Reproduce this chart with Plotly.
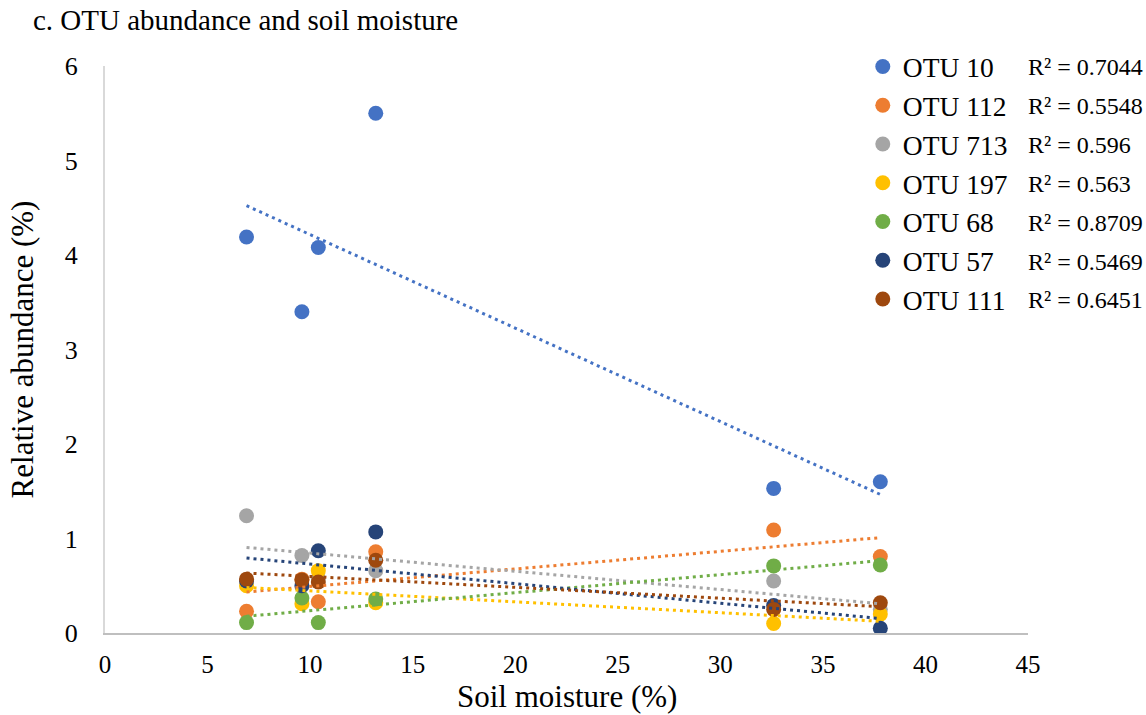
import numpy as np
import plotly.graph_objects as go

# ---- data ----
moisture = [6.9, 9.6, 10.4, 13.2, 32.6, 37.8]

otu_names = ["OTU 10", "OTU 112", "OTU 713", "OTU 197", "OTU 68", "OTU 57", "OTU 111"]
otu10 = [4.19, 3.40, 4.08, 5.50, 1.53, 1.60]
otu112 = [0.23, 0.57, 0.33, 0.86, 1.09, 0.81]
otu713 = [1.24, 0.82, 0.58, 0.66, 0.55, 0.25]
otu197 = [0.50, 0.31, 0.66, 0.32, 0.10, 0.20]
otu68 = [0.11, 0.37, 0.11, 0.36, 0.71, 0.72]
otu57 = [0.55, 0.50, 0.87, 1.07, 0.29, 0.05]
otu111 = [0.57, 0.56, 0.54, 0.77, 0.25, 0.32]
r2_labels = ["R² = 0.7044", "R² = 0.5548", "R² = 0.596", "R² = 0.563",
             "R² = 0.8709", "R² = 0.5469", "R² = 0.6451"]

series = [otu10, otu112, otu713, otu197, otu68, otu57, otu111]
colors = ["#4472C4", "#ED7D31", "#A5A5A5", "#FFC000", "#70AD47", "#264478", "#9E480E"]

FONT = "Liberation Serif, Times New Roman, serif"

fig = go.Figure()

# markers
for name, ys, c in zip(otu_names, series, colors):
    fig.add_trace(go.Scatter(
        x=moisture, y=ys, mode="markers", name=name,
        marker=dict(color=c, size=15),
        legendgroup=name,
    ))

# linear trendlines (least squares from the data)
xs = np.array(moisture)
xline = np.array([xs.min(), xs.max()])
for name, ys, c in zip(otu_names, series, colors):
    k, b = np.polyfit(xs, np.array(ys), 1)
    fig.add_trace(go.Scatter(
        x=xline, y=k * xline + b, mode="lines", showlegend=False,
        line=dict(color=c, width=3, dash="3px,4px"),
        hoverinfo="skip", legendgroup=name,
    ))

# R² labels next to legend entries
for i, txt in enumerate(r2_labels):
    fig.add_annotation(
        text=txt, xref="paper", yref="paper",
        x=0.998, y=(633 - (67 + i * 38.9)) / 567,
        xanchor="left", yanchor="middle", showarrow=False,
        font=dict(family=FONT, size=24, color="#000000"),
    )

# x-axis title
fig.add_annotation(
    text="Soil moisture (%)", xref="paper", yref="paper",
    x=0.5, y=(633 - 696) / 567, xanchor="center", yanchor="middle",
    showarrow=False, font=dict(family=FONT, size=31, color="#000000"),
)

fig.update_layout(
    width=1146, height=715,
    margin=dict(l=105, r=118, t=66, b=82),
    paper_bgcolor="white", plot_bgcolor="white",
    font=dict(family=FONT, color="#000000"),
    title=dict(text="c. OTU abundance and soil moisture",
               x=33 / 1146, xanchor="left", y=1 - 20 / 715, yanchor="middle",
               font=dict(family=FONT, size=29, color="#000000")),
    showlegend=True,
    legend=dict(
        x=0.821, y=1.042, xanchor="left", yanchor="top",
        font=dict(family=FONT, size=27.5, color="#000000"),
        bgcolor="rgba(0,0,0,0)", tracegroupgap=0,
        itemwidth=30,
    ),
    xaxis=dict(
        range=[0, 45], dtick=5, tick0=0, showgrid=False, zeroline=False,
        showline=True, linecolor="#BFBFBF", linewidth=2, automargin=False,
        ticks="", tickfont=dict(family=FONT, size=25),
        ticklabelstandoff=8,
    ),
    yaxis=dict(
        range=[0, 6], dtick=1, tick0=0, showgrid=False, zeroline=False,
        showline=True, linecolor="#D9D9D9", linewidth=2, automargin=False,
        ticks="", tickfont=dict(family=FONT, size=26),
        ticklabelstandoff=20,
        title=dict(text="Relative abundance (%)", font=dict(family=FONT, size=31), standoff=22),
    ),
)

fig.write_html("out.html")
